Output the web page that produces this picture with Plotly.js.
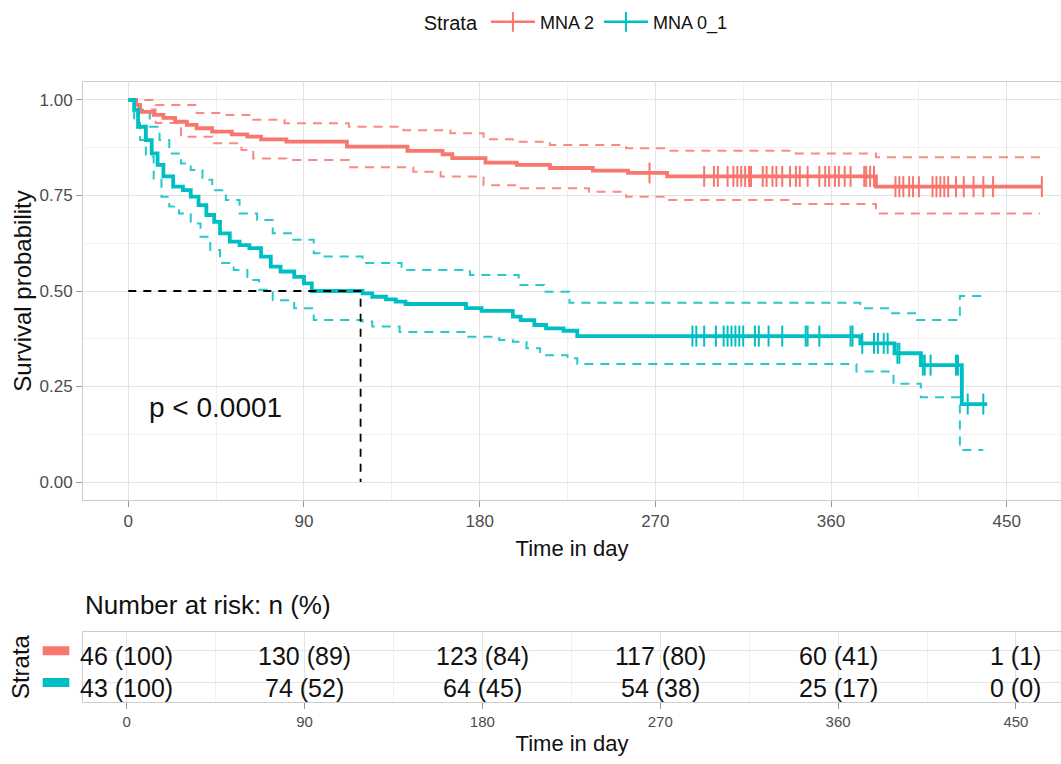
<!DOCTYPE html>
<html>
<head>
<meta charset="utf-8">
<script src="https://cdn.plot.ly/plotly-3.0.1.min.js"></script>
<style>html,body{margin:0;padding:0;background:#fff;}</style>
</head>
<body>
<div id="chart" style="width:1061px;height:764px;"></div>
<script>
// ---------- data ----------
const strata = ["MNA 2", "MNA 0_1"];
const colors = ["#F8766D", "#00BFC4"];

// MNA 2 Kaplan-Meier estimate
const mna2Time = [0, 4, 6, 13, 18, 24, 30, 35, 43, 53, 61, 68, 81, 112, 143, 161, 166, 183, 199, 216, 238, 256, 276, 383, 468];
const mna2Surv = [1.0, 0.987, 0.969, 0.961, 0.953, 0.943, 0.935, 0.926, 0.917, 0.910, 0.904, 0.897, 0.891, 0.878, 0.867, 0.858, 0.848, 0.836, 0.830, 0.822, 0.815, 0.809, 0.800, 0.773, 0.773];
const mna2UpperTime = [0, 14, 35, 48, 63, 80, 113, 141, 165, 182, 197, 216, 255, 276, 342, 383, 467];
const mna2Upper = [1.0, 0.987, 0.966, 0.961, 0.948, 0.939, 0.930, 0.921, 0.913, 0.897, 0.891, 0.882, 0.874, 0.867, 0.860, 0.850, 0.850];
const mna2LowerTime = [0, 5, 14, 27, 43, 58, 64, 81, 113, 146, 160, 182, 201, 236, 255, 276, 340, 383, 467];
const mna2Lower = [1.0, 0.975, 0.940, 0.904, 0.887, 0.869, 0.847, 0.843, 0.824, 0.812, 0.800, 0.777, 0.769, 0.760, 0.747, 0.738, 0.728, 0.703, 0.703];
const mna2Censor = [267, 295, 300, 302, 307, 310, 312, 314, 316, 318, 319, 325, 327, 330, 332, 335, 339, 342, 344, 348, 354, 357, 359, 362, 364, 367, 370, 377, 378, 380, 382, 393, 395, 397, 400, 402, 405, 412, 414, 416, 418, 420, 424, 428, 433, 438, 443, 468];

// MNA 0_1 Kaplan-Meier estimate
const mna01Time = [0, 3, 5, 9, 12, 15, 18, 23, 28, 32, 36, 40, 44, 47, 52, 57, 62, 68, 73, 78, 85, 90, 94, 120, 125, 132, 137, 142, 173, 181, 197, 201, 208, 214, 223, 230, 375, 392.5, 406, 427, 440];
const mna01Surv = [1.0, 0.974, 0.930, 0.895, 0.860, 0.830, 0.800, 0.773, 0.764, 0.747, 0.725, 0.699, 0.681, 0.651, 0.629, 0.620, 0.612, 0.590, 0.564, 0.551, 0.537, 0.520, 0.500, 0.494, 0.485, 0.478, 0.472, 0.466, 0.455, 0.448, 0.433, 0.424, 0.411, 0.402, 0.396, 0.382, 0.363, 0.337, 0.306, 0.204, 0.204];
const mna01UpperTime = [0, 6, 11, 16, 21, 27, 32, 38, 43, 50, 57, 66, 74, 84, 95, 98, 120, 140, 175, 200, 213, 226, 375, 390, 404, 426, 438];
const mna01Upper = [1.0, 0.974, 0.930, 0.895, 0.860, 0.834, 0.817, 0.791, 0.764, 0.738, 0.703, 0.686, 0.651, 0.634, 0.599, 0.590, 0.573, 0.555, 0.542, 0.516, 0.498, 0.469, 0.455, 0.442, 0.424, 0.487, 0.487];
const mna01LowerTime = [0, 3, 6, 9, 13, 17, 21, 26, 32, 37, 42, 47, 54, 61, 67, 74, 85, 95, 120, 125, 139, 173, 190, 197, 204, 211, 225, 230, 373, 392, 406, 426, 438];
const mna01Lower = [1.0, 0.940, 0.895, 0.852, 0.791, 0.747, 0.721, 0.703, 0.677, 0.642, 0.607, 0.573, 0.555, 0.529, 0.503, 0.476, 0.455, 0.424, 0.420, 0.407, 0.393, 0.380, 0.372, 0.367, 0.350, 0.332, 0.324, 0.309, 0.289, 0.257, 0.222, 0.084, 0.084];
const mna01Censor = [289, 291, 295, 301, 305, 307, 309, 311, 313, 315, 321, 323, 328, 335, 347, 348, 354, 370, 371, 376, 382, 384, 387, 389, 394, 395, 407, 408, 411, 424, 425, 430, 438];

// median survival (MNA 0_1)
const medianTime = 119;
const medianSurv = 0.5;
const pValueText = "p < 0.0001";

// risk table
const riskTimes = [0, 90, 180, 270, 360, 450];
const riskMna2 = ["46 (100)", "130 (89)", "123 (84)", "117 (80)", "60 (41)", "1 (1)"];
const riskMna01 = ["43 (100)", "74 (52)", "64 (45)", "54 (38)", "25 (17)", "0 (0)"];

const xTicks = [0, 90, 180, 270, 360, 450];
const yTicks = [0, 0.25, 0.5, 0.75, 1];
const yTickText = ["0.00", "0.25", "0.50", "0.75", "1.00"];

// ---------- helpers ----------
function stepLookup(times, vals, t) {
  let v = vals[0];
  for (let i = 0; i < times.length; i++) { if (times[i] <= t) v = vals[i]; }
  return v;
}

const FONT = "Liberation Sans, Arial, sans-serif";
const groups = [
  {name: strata[0], color: colors[0], t: mna2Time, s: mna2Surv, ut: mna2UpperTime, u: mna2Upper, lt: mna2LowerTime, l: mna2Lower, c: mna2Censor},
  {name: strata[1], color: colors[1], t: mna01Time, s: mna01Surv, ut: mna01UpperTime, u: mna01Upper, lt: mna01LowerTime, l: mna01Lower, c: mna01Censor}
];

const traces = [];
groups.forEach(g => {
  [[g.ut, g.u], [g.lt, g.l]].forEach(([tt, vv]) => {
    traces.push({x: tt, y: vv, type: "scatter", mode: "lines", line: {color: g.color, width: 2, dash: "9px,7px", shape: "hv"},
      opacity: 0.85, showlegend: false, hoverinfo: "skip", xaxis: "x", yaxis: "y"});
  });
});
groups.forEach(g => {
  traces.push({x: g.t, y: g.s, type: "scatter", mode: "lines", line: {color: g.color, width: 3.8, shape: "hv"},
    showlegend: false, name: g.name, xaxis: "x", yaxis: "y"});
  traces.push({x: g.c, y: g.c.map(t => stepLookup(g.t, g.s, t)), type: "scatter", mode: "markers",
    marker: {symbol: "line-ns-open", size: 15, color: g.color, line: {color: g.color, width: 2}},
    showlegend: false, name: g.name, xaxis: "x", yaxis: "y"});
});
// median guide lines
traces.push({x: [0, medianTime, medianTime], y: [medianSurv, medianSurv, 0], type: "scatter", mode: "lines",
  line: {color: "#000", width: 1.8, dash: "8px,7px"}, showlegend: false, hoverinfo: "skip", xaxis: "x", yaxis: "y"});
// legend entries
groups.forEach(g => {
  traces.push({x: [null], y: [null], type: "scatter", mode: "lines+markers", name: g.name,
    line: {color: g.color, width: 2.5}, marker: {symbol: "line-ns-open", size: 14, color: g.color, line: {color: g.color, width: 2}},
    showlegend: true, xaxis: "x", yaxis: "y"});
});

// risk table annotations
const annotations = [];
[[riskMna2, 2], [riskMna01, 1]].forEach(([labels, row]) => {
  labels.forEach((lab, i) => {
    annotations.push({x: riskTimes[i], y: row, xref: "x2", yref: "y2", text: lab, showarrow: false,
      xanchor: "center", yanchor: "middle", yshift: -5, font: {family: FONT, size: 25, color: "#111"}});
  });
});
annotations.push({x: 9.6, y: 0.194, xref: "x", yref: "y", text: pValueText, showarrow: false, xanchor: "left", yanchor: "middle",
  font: {family: FONT, size: 28, color: "#111"}});
annotations.push({x: 0, y: 1 - 605/764, xref: "paper", yref: "paper", text: "Number at risk: n (%)", showarrow: false,
  xanchor: "left", yanchor: "middle", font: {family: FONT, size: 26, color: "#111"}});
annotations.push({x: -0.064, y: 1.5, xref: "paper", yref: "y2", text: "Strata", textangle: -90, showarrow: false,
  xanchor: "center", yanchor: "middle", font: {family: FONT, size: 24, color: "#111"}});

const shapes = [];
[[colors[0], 2], [colors[1], 1]].forEach(([c, row]) => {
  shapes.push({type: "rect", xref: "paper", yref: "y2", x0: -0.0412, x1: -0.014, ysizemode: "pixel", yanchor: row, y0: -4.5, y1: 4.5,
    fillcolor: c, line: {width: 0}});
});

const gridMajor = "#E4E4E4", gridMinor = "#F1F1F1", borderC = "#CDCDCD", tickC = "#9A9A9A";
const baseX = {
  tickvals: xTicks, ticks: "outside", ticklen: 6, tickcolor: tickC, tickwidth: 1,
  showgrid: true, gridcolor: gridMajor, gridwidth: 1, zeroline: false,
  minor: {dtick: 45, tick0: 0, showgrid: true, gridcolor: gridMinor, gridwidth: 1},
  showline: true, linecolor: borderC, linewidth: 1, mirror: true
};

const layout = {
  width: 1061, height: 764,
  margin: {l: 83, r: 0, t: 0, b: 0, pad: 0, autoexpand: false},
  paper_bgcolor: "#fff", plot_bgcolor: "#fff",
  font: {family: FONT, color: "#111"},
  showlegend: true,
  legend: {orientation: "h", xref: "container", yref: "container", x: 0.544, xanchor: "center", y: 0.971, yanchor: "middle",
    title: {text: "Strata", side: "left", font: {size: 20, color: "#111"}}, font: {size: 18, color: "#111"}, itemwidth: 44},
  xaxis: Object.assign({}, baseX, {domain: [0, 1], anchor: "y", range: [-23.2, 477.8],
    tickfont: {size: 17, color: "#4D4D4D"},
    title: {text: "Time in day", font: {size: 22, color: "#111"}, standoff: 10}}),
  yaxis: {domain: [1 - 500/764, 1 - 82/764], anchor: "x", range: [-0.0471, 1.0471],
    tickvals: yTicks, ticktext: yTickText, ticks: "outside", ticklen: 6, tickcolor: tickC, tickwidth: 1,
    tickfont: {size: 17, color: "#4D4D4D"},
    showgrid: true, gridcolor: gridMajor, gridwidth: 1, zeroline: false,
    minor: {dtick: 0.125, tick0: 0, showgrid: true, gridcolor: gridMinor, gridwidth: 1},
    showline: true, linecolor: borderC, linewidth: 1,
    title: {text: "Survival probability", font: {size: 24, color: "#111"}, standoff: 1}},
  xaxis2: Object.assign({}, baseX, {domain: [0, 1], anchor: "y2", range: [-22.1, 472.8],
    tickfont: {size: 15, color: "#4D4D4D"},
    title: {text: "Time in day", font: {size: 22, color: "#111"}, standoff: 6}}),
  yaxis2: {domain: [1 - 701.7/764, 1 - 631.7/764], anchor: "x2", range: [0.4, 2.6],
    tickvals: [1, 2], ticktext: ["", ""], ticks: "", showgrid: true, gridcolor: gridMajor, gridwidth: 1, zeroline: false,
    showline: true, linecolor: borderC, linewidth: 1},
  annotations: annotations,
  shapes: shapes
};

Plotly.newPlot("chart", traces, layout, {displayModeBar: false, staticPlot: true});
</script>
</body>
</html>
